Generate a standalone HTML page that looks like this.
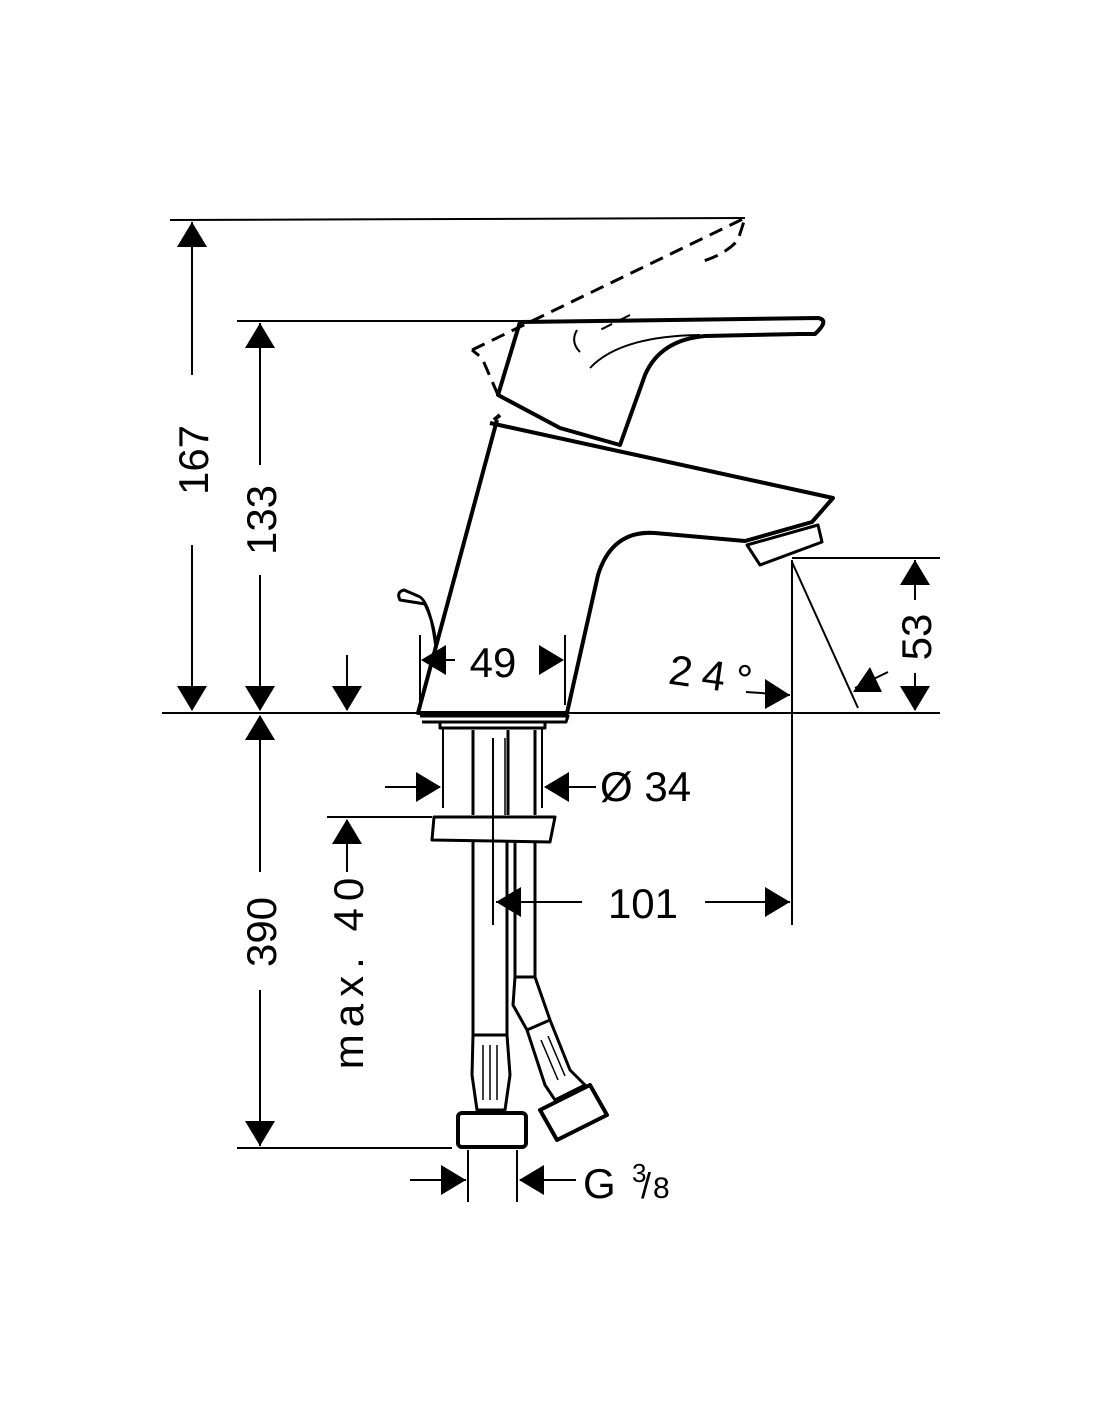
<!DOCTYPE html>
<html><head><meta charset="utf-8"><style>
html,body{margin:0;padding:0;background:#fff;width:1100px;height:1422px;overflow:hidden}
svg{display:block}
text{font-family:"Liberation Sans",sans-serif;fill:#000}
</style></head><body>
<svg width="1100" height="1422" viewBox="0 0 1100 1422" xmlns="http://www.w3.org/2000/svg">
<g stroke="#000" fill="none" stroke-width="2">
<line x1="170" y1="220" x2="745" y2="218"/>
<line x1="237" y1="321" x2="520" y2="321"/>
<line x1="162" y1="713" x2="940" y2="713"/>
<line x1="792" y1="558" x2="940" y2="558"/>
<line x1="792" y1="560" x2="792" y2="925"/>
<line x1="792" y1="562" x2="858" y2="708"/>
<line x1="327" y1="817" x2="432" y2="817"/>
<line x1="237" y1="1148" x2="452" y2="1148"/>
<line x1="468" y1="1150" x2="468" y2="1202"/>
<line x1="517" y1="1150" x2="517" y2="1202"/>
<line x1="420" y1="635" x2="420" y2="705"/>
<line x1="565" y1="635" x2="565" y2="705"/>
<line x1="443" y1="728" x2="443" y2="808"/>
<line x1="542" y1="728" x2="542" y2="808"/>
<line x1="493" y1="738" x2="493" y2="925"/>
<line x1="192" y1="222" x2="192" y2="375"/>
<line x1="192" y1="545" x2="192" y2="710"/>
<line x1="260" y1="323" x2="260" y2="465"/>
<line x1="260" y1="575" x2="260" y2="710"/>
<line x1="260" y1="716" x2="260" y2="872"/>
<line x1="260" y1="990" x2="260" y2="1146"/>
<line x1="347" y1="655" x2="347" y2="710"/>
<line x1="347" y1="820" x2="347" y2="872"/>
<line x1="915" y1="560" x2="915" y2="600"/>
<line x1="915" y1="673" x2="915" y2="710"/>
<line x1="385" y1="787" x2="440" y2="787"/>
<line x1="545" y1="787" x2="596" y2="787"/>
<line x1="496" y1="902" x2="582" y2="902"/>
<line x1="705" y1="902" x2="790" y2="902"/>
<line x1="410" y1="1180" x2="466" y2="1180"/>
<line x1="520" y1="1180" x2="576" y2="1180"/>
<line x1="746" y1="692" x2="790" y2="695"/>
<line x1="855" y1="688" x2="888" y2="672"/>
<line x1="445" y1="660" x2="455" y2="660"/>
</g>
<g fill="#000">
<polygon points="192,222 177,247 207,247"/>
<polygon points="192,711 177,686 207,686"/>
<polygon points="260,323 245,348 275,348"/>
<polygon points="260,711 245,686 275,686"/>
<polygon points="260,715 245,740 275,740"/>
<polygon points="260,1146 245,1121 275,1121"/>
<polygon points="347,711 332,686 362,686"/>
<polygon points="347,819 332,844 362,844"/>
<polygon points="915,560 900,585 930,585"/>
<polygon points="915,711 900,686 930,686"/>
<polygon points="441,787 416,772 416,802"/>
<polygon points="544,787 569,772 569,802"/>
<polygon points="496,902 521,887 521,917"/>
<polygon points="790,902 765,887 765,917"/>
<polygon points="466,1180 441,1165 441,1195"/>
<polygon points="519,1180 544,1165 544,1195"/>
<polygon points="421,660 446,645 446,675"/>
<polygon points="564,660 539,645 539,675"/>
<polygon points="790,695 765,679 765,709"/>
<polygon points="853,692 870,667 882,692"/>
</g>
<g stroke="#000" fill="none" stroke-width="4" stroke-linejoin="round">
<path d="M520,322 L818,318 Q830,320 815,334 L800,334 L705,336 Q660,340 645,375 L620,445 L560,428 L498,395 Z"/>
<path d="M497,420 L418,713 L567,713 L598,575 Q612,530 655,533 L745,541 L812,522 L833,498 L490,423"/>
<path d="M500,415 L494,420"/>
<path d="M747,545 L818,525 L822,542 L760,565 Z" stroke-width="3"/>
<path d="M420,716 L568,716 L566,722 L422,722" stroke-width="3"/>
<path d="M440,722 L440,728 L545,728 L545,722" stroke-width="3"/>
<path d="M436,648 Q430,600 418,596 L404,590 Q396,592 400,600 L425,604 Q435,625 436,648" stroke-width="3"/>
<line x1="473" y1="730" x2="473" y2="815" stroke-width="3"/>
<line x1="508" y1="730" x2="508" y2="815" stroke-width="3"/>
<line x1="535" y1="730" x2="535" y2="815" stroke-width="3"/>
<path d="M434,817 L555,817 L550,842 L432,840 Z" stroke-width="3"/>
<line x1="473" y1="842" x2="473" y2="1035" stroke-width="3"/>
<line x1="507" y1="842" x2="507" y2="1035" stroke-width="3"/>
<line x1="515" y1="842" x2="515" y2="977" stroke-width="3"/>
<line x1="535" y1="842" x2="535" y2="977" stroke-width="3"/>
<line x1="515" y1="977" x2="535" y2="977" stroke-width="3"/>
<path d="M515,977 L513,1005 L527,1030 M535,977 L550,1020" stroke-width="3"/>
<path d="M473,1035 L507,1035 L510,1075 L505,1110 L477,1110 L472,1075 Z" stroke-width="3"/>
<rect x="458" y="1113" width="68" height="34" rx="4" stroke-width="4"/>
<path d="M527,1030 L550,1020 L570,1070 L585,1085 L555,1100 L545,1085 Z" stroke-width="3"/>
<path d="M540,1110 L590,1085 L607,1115 L557,1140 Z" stroke-width="4"/>
<g stroke-width="1.5">
<line x1="483" y1="1045" x2="483" y2="1100"/><line x1="490" y1="1045" x2="490" y2="1100"/><line x1="497" y1="1045" x2="497" y2="1100"/>
<line x1="541" y1="1040" x2="558" y2="1080"/><line x1="548" y1="1036" x2="565" y2="1076"/>
<line x1="505" y1="738" x2="505" y2="815"/>
</g>
<path d="M472,350 L745,218 L738,240 Q725,255 700,262 M498,395 L482,358 L472,350" stroke-dasharray="14,8" stroke-width="3"/>
<path d="M630,315 L600,330" stroke-dasharray="12,8" stroke-width="2"/>
<path d="M577,330 Q570,342 580,352 M590,368 Q620,336 700,335" stroke-width="2"/>
</g>
<g font-size="42">
<text transform="translate(208,460) rotate(-90)" text-anchor="middle">167</text>
<text transform="translate(276,520) rotate(-90)" text-anchor="middle">133</text>
<text transform="translate(276,932) rotate(-90)" text-anchor="middle">390</text>
<text transform="translate(363,970) rotate(-90)" text-anchor="middle" letter-spacing="7">max. 40</text>
<text transform="translate(931,637) rotate(-90)" text-anchor="middle">53</text>
<text x="493" y="677" text-anchor="middle">49</text>
<text x="600" y="801">Ø 34</text>
<text x="643" y="918" text-anchor="middle">101</text>
<text x="668" y="688" transform="rotate(8 700 680)" letter-spacing="10">24°</text>
<text x="583" y="1198">G</text>
<text x="632" y="1182" font-size="26">3</text>
<text x="641" y="1198" font-size="36">/</text>
<text x="653" y="1198" font-size="30">8</text>
</g>
</svg>
</body></html>
